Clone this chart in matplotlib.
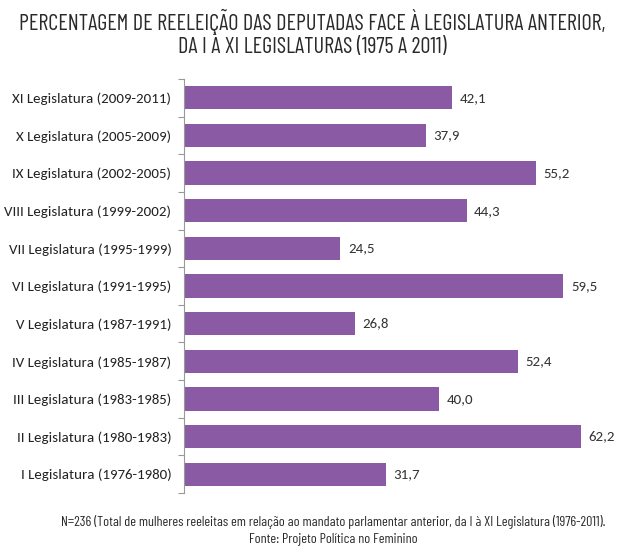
import matplotlib
matplotlib.use("Agg")
import matplotlib.pyplot as plt
import numpy as np

categories = [
    "XI Legislatura (2009-2011)",
    "X Legislatura (2005-2009)",
    "IX Legislatura (2002-2005)",
    "VIII Legislatura (1999-2002)",
    "VII Legislatura (1995-1999)",
    "VI Legislatura (1991-1995)",
    "V Legislatura (1987-1991)",
    "IV Legislatura (1985-1987)",
    "III Legislatura (1983-1985)",
    "II Legislatura (1980-1983)",
    "I Legislatura (1976-1980)",
]
values = [42.1, 37.9, 55.2, 44.3, 24.5, 59.5, 26.8, 52.4, 40.0, 62.2, 31.7]
value_labels = ["42,1", "37,9", "55,2", "44,3", "24,5", "59,5", "26,8", "52,4", "40,0", "62,2", "31,7"]

title = "PERCENTAGEM DE REELEIÇÃO DAS DEPUTADAS FACE À LEGISLATURA ANTERIOR,\nDA I À XI LEGISLATURAS (1975 A 2011)"
note1 = "N=236 (Total de mulheres reeleitas em relação ao mandato parlamentar anterior, da I à XI Legislatura (1976-2011)."
note2 = "Fonte: Projeto Política no Feminino"

W, H = 619, 553
fig = plt.figure(figsize=(W / 100, H / 100), dpi=100)
ax = fig.add_axes([184 / W, (H - 493) / H, 426 / W, 414 / H])

lab_font = ["Carlito", "DejaVu Sans"]
cond_font = ["Barlow Condensed", "DejaVu Sans"]

n = len(categories)
y = np.arange(n)
ax.barh(y, values, height=0.62, color="#8A5BA4", edgecolor="none")
ax.set_ylim(n - 0.5, -0.5)
ax.set_xlim(0, 66.8)

ax.set_yticks(y)
ax.set_yticklabels(categories, fontsize=10.7, color="#222222", family=lab_font)
ax.tick_params(axis="y", which="major", length=0, pad=9)
ax.set_yticks(np.arange(-0.5, n, 1), minor=True)
ax.tick_params(axis="y", which="minor", length=4, color="#999999", width=0.8)
ax.set_xticks([])
for s in ["top", "right", "bottom"]:
    ax.spines[s].set_visible(False)
ax.spines["left"].set_color("#999999")
ax.spines["left"].set_linewidth(0.8)

for yi, v, lab in zip(y, values, value_labels):
    ax.text(v + 1.2, yi, lab, va="center", ha="left", fontsize=10.7, color="#333333",
            family=lab_font)

fig.text(0.505, 1 - 33 / H, title, ha="center", va="center", fontsize=16, color="#2a2a2a",
         family=cond_font, weight="normal", linespacing=1.0)
fig.text(333 / W, 1 - 522 / H, note1, ha="center", va="center", fontsize=10.2,
         color="#2a2a2a", family=cond_font, weight="normal")
fig.text(333 / W, 1 - 540 / H, note2, ha="center", va="center", fontsize=10.2,
         color="#2a2a2a", family=cond_font, weight="normal")

fig.savefig("out.png", dpi=100, facecolor="white")
